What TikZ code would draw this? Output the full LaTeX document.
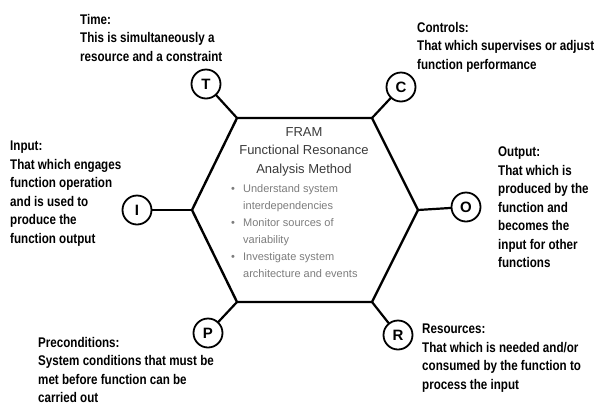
\documentclass[tikz,border=0pt]{standalone}
\usepackage{fontspec}
\setmainfont{Liberation Sans}
\newfontfamily\notefont[FakeStretch=0.83]{Liberation Sans}
\usepackage{xcolor}
\usepackage{tikz}

\begin{document}
\begin{tikzpicture}[
  x=1pt, y=-1pt,
  line cap=round,
  line join=miter,
  hexline/.style={draw=black, line width=2.4pt},
  link/.style={draw=black, line width=2.2pt},
  port/.style={circle, draw=black, fill=white, line width=1.8pt,
    minimum size=29pt, inner sep=0pt,
    font=\bfseries\fontsize{15}{15}\selectfont},
  note/.style={anchor=north west, inner sep=0pt, align=left,
    font=\notefont\bfseries\fontsize{14}{18.5}\selectfont},
  head/.style={anchor=north, inner sep=0pt, align=center, text=framgrey,
    font=\fontsize{13}{18.5}\selectfont},
  bullets/.style={anchor=north west, inner sep=0pt, align=left, text=framlight,
    font=\fontsize{11}{17}\selectfont}
]
\definecolor{framgrey}{HTML}{3A3A3A}
\definecolor{framlight}{HTML}{7C7C7C}
\useasboundingbox (0,0) rectangle (595,408);

% The function: a stretched hexagon with one corner per aspect.
\coordinate (hl)  at (192,210);
\coordinate (htl) at (237,118);
\coordinate (htr) at (372,118);
\coordinate (hr)  at (418,210);
\coordinate (hbr) at (372,302);
\coordinate (hbl) at (237,302);
\draw[hexline] (hl) -- (htl) -- (htr) -- (hr) -- (hbr) -- (hbl) -- cycle;

\node[head] (framTitle) at (304,127)
  {FRAM\\Functional Resonance\\Analysis Method};
\node[bullets] (framAims) at (231,184)
  {\makebox[12pt][l]{\textbullet}Understand system\\
   \hspace*{12pt}interdependencies\\
   \makebox[12pt][l]{\textbullet}Monitor sources of\\
   \hspace*{12pt}variability\\
   \makebox[12pt][l]{\textbullet}Investigate system\\
   \hspace*{12pt}architecture and events};

% The six aspects, each tied to its corner.
\node[port] (T) at (206,84)  {T};
\node[port] (C) at (401,87)  {C};
\node[port] (I) at (137,210) {I};
\node[port] (O) at (466,207) {O};
\node[port] (P) at (208,333) {P};
\node[port] (R) at (398,335) {R};
\draw[link] (htl) -- (T);
\draw[link] (htr) -- (C);
\draw[link] (hl)  -- (I);
\draw[link] (hr)  -- (O);
\draw[link] (hbl) -- (P);
\draw[link] (hbr) -- (R);

% What each aspect stands for.
\node[note] (timeNote) at (80,14)
  {Time:\\This is simultaneously a\\resource and a constraint};
\node[note] (controlNote) at (417,22)
  {Controls:\\That which supervises or adjust\\function performance};
\node[note] (inputNote) at (10,141)
  {Input:\\That which engages\\function operation\\and is used to\\produce the\\function output};
\node[note] (outputNote) at (498,147)
  {Output:\\That which is\\produced by the\\function and\\becomes the\\input for other\\functions};
\node[note] (precondNote) at (38,337)
  {Preconditions:\\System conditions that must be\\met before function can be\\carried out};
\node[note] (resourceNote) at (422,324)
  {Resources:\\That which is needed and/or\\consumed by the function to\\process the input};
\end{tikzpicture}
\end{document}
